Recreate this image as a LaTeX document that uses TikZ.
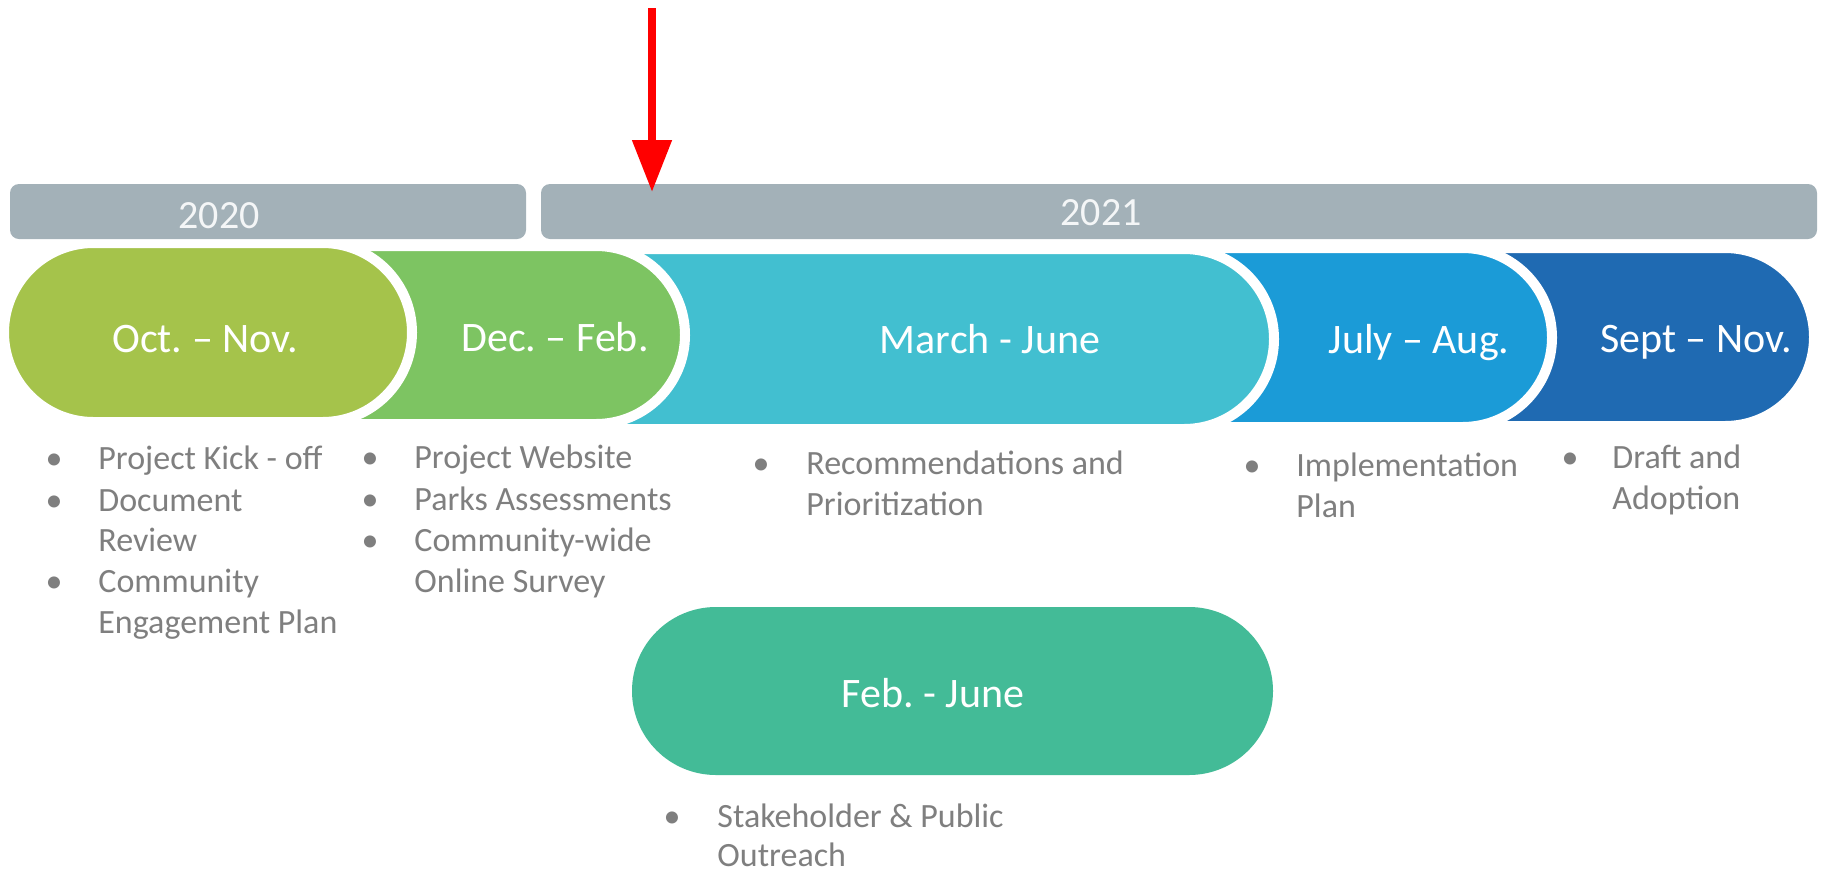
\documentclass[tikz,border=0pt]{standalone}
\usepackage{fontspec}
\setmainfont{Carlito}
\usetikzlibrary{shapes.misc,arrows.meta}
\definecolor{barGray}{HTML}{A3B1B8}
\definecolor{yearWhite}{HTML}{F4F6F7}
\definecolor{cOct}{HTML}{A5C34B}
\definecolor{cDec}{HTML}{7DC462}
\definecolor{cMarch}{HTML}{42BFD0}
\definecolor{cJuly}{HTML}{1B9BD7}
\definecolor{cSept}{HTML}{1F6AB2}
\definecolor{cFeb}{HTML}{43BB97}
\definecolor{bulGray}{HTML}{7F7F7F}
\frenchspacing
\begin{document}
\begin{tikzpicture}[x=0.5pt,y=-0.5pt,
  yearbar/.style={fill=barGray, draw=none, rounded corners=4.5pt, minimum height=27.5pt, inner sep=0pt, outer sep=0pt, anchor=north west},
  pill/.style={rounded rectangle, draw=white, line width=5pt, inner sep=0pt, outer sep=0pt, anchor=west},
  halfpill/.style={pill, rounded rectangle west arc=none},
  pilltxt/.style={font=\fontsize{21pt}{25pt}\selectfont, text=white, anchor=base, inner sep=0pt},
  yeartxt/.style={font=\fontsize{20pt}{24pt}\selectfont, text=yearWhite, anchor=base, inner sep=0pt},
  bul/.style={font=\fontsize{17pt}{20.5pt}\selectfont, text=bulGray, anchor=base, inner sep=0pt},
  itm/.style={font=\fontsize{17pt}{20.5pt}\selectfont, text=bulGray, anchor=base west, inner sep=0pt}
]
\useasboundingbox (0,0) rectangle (1824,873);
\fill[white] (0,0) rectangle (1824,873);

% phase pills, drawn right to left
\node[halfpill, fill=cSept, minimum width=176pt, minimum height=89pt] (sept) at (1462,337) {};
\node[halfpill, fill=cJuly, minimum width=184pt, minimum height=89.5pt] (july) at (1184,337.5) {};
\node[halfpill, fill=cMarch, minimum width=339pt, minimum height=90pt] (march) at (596,339) {};
\node[halfpill, fill=cDec, minimum width=181.5pt, minimum height=89pt] (dec) at (322,335) {};
\node[pill, fill=cOct, minimum width=204pt, minimum height=89.5pt] (oct) at (4,332.5) {};
\node[rounded rectangle, fill=cFeb, minimum width=320.5pt, minimum height=84pt, inner sep=0pt] (feb) at (952.5,691) {};

% year bars
\node[yearbar, minimum width=258pt] (bar2020) at (10,184) {};
\node[yearbar, minimum width=638pt] (bar2021) at (541,184) {};
\node[yeartxt] (y2020) at (219,228) {2020};
\node[yeartxt] (y2021) at (1101,225) {2021};

% red arrow
\coordinate (arrowtail) at (652,8);
\coordinate (arrowhead) at (652,192);
\draw[red, line width=4pt, -{Triangle[width=19pt,length=26pt]}] (arrowtail) -- (arrowhead);

% pill labels
\node[pilltxt] (loct) at (205,352) {Oct. – Nov.};
\node[pilltxt] (ldec) at (555,351) {Dec. – Feb.};
\node[pilltxt] (lmarch) at (990,353) {March - June};
\node[pilltxt] (ljuly) at (1419,353) {July – Aug.};
\node[pilltxt] (lsept) at (1696,352) {Sept – Nov.};
\node[pilltxt] (lfeb) at (933,707) {Feb. - June};

% column 1
\node[bul] (b1a) at (54,469) {•};
\node[itm] (t1a) at (98,469) {Project Kick - off};
\node[bul] (b1b) at (54,511) {•};
\node[itm] (t1b) at (98,511) {Document};
\node[itm] (t1c) at (98,551) {Review};
\node[bul] (b1d) at (54,592) {•};
\node[itm] (t1d) at (98,592) {Community};
\node[itm] (t1e) at (98,633) {Engagement Plan};

% column 2
\node[bul] (b2a) at (370,468) {•};
\node[itm] (t2a) at (414,468) {Project Website};
\node[bul] (b2b) at (370,510) {•};
\node[itm] (t2b) at (414,510) {Parks Assessments};
\node[bul] (b2c) at (370,551) {•};
\node[itm] (t2c) at (414,551) {Community-wide};
\node[itm] (t2d) at (414,592) {Online Survey};

% column 3
\node[bul] (b3a) at (761,474) {•};
\node[itm] (t3a) at (806,474) {Recommendations and};
\node[itm] (t3b) at (806,515) {Prioritization};

% column 4
\node[bul] (b4a) at (1252,476) {•};
\node[itm] (t4a) at (1296,476) {Implementation};
\node[itm] (t4b) at (1296,517) {Plan};

% column 5
\node[bul] (b5a) at (1570,468) {•};
\node[itm] (t5a) at (1612,468) {Draft and};
\node[itm] (t5b) at (1612,509) {Adoption};

% column 6
\node[bul] (b6a) at (672,827) {•};
\node[itm] (t6a) at (717,827) {Stakeholder \& Public};
\node[itm] (t6b) at (717,866) {Outreach};
\end{tikzpicture}
\end{document}
